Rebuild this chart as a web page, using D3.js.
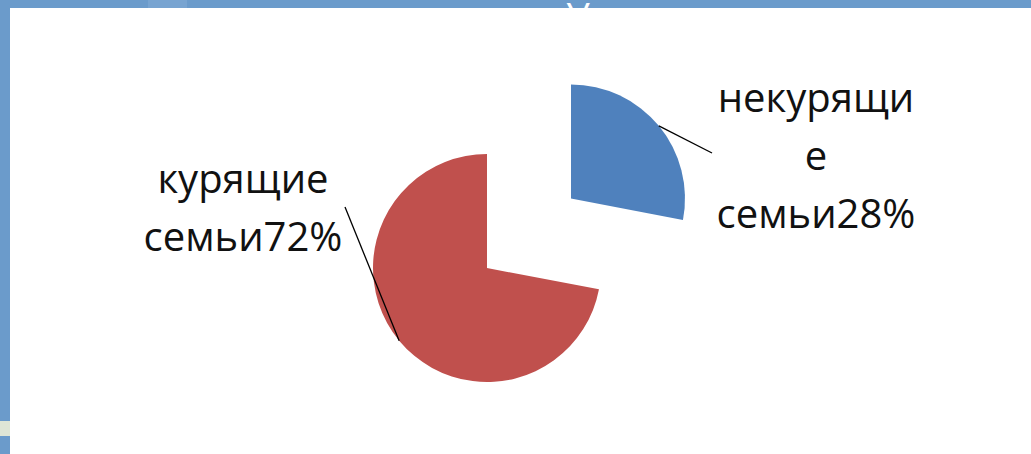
<!DOCTYPE html>
<html>
<head>
<meta charset="utf-8">
<script src="https://cdn.jsdelivr.net/npm/d3@7"></script>
<style>
  html, body { margin: 0; padding: 0; background: #6b9bcb; }
  svg { display: block; }
</style>
</head>
<body>
<div id="chart"></div>
<script>
// data
const categories = ['некурящие семьи', 'курящие семьи'];
const values = [28, 72];
const colors = ['#4f81bd', '#c0504d'];
// how the data labels wrap in the picture
const labelLines = [
    ['некурящи', 'е', 'семьи28%'],
    ['курящие', 'семьи72%']
];
const titleText = 'У';

const width = 1031, height = 454;
const cx = 487, cy = 268, radius = 114, explode = 109;
const fontSize = 40, lineHeight = 58;

// label anchor (centre x, first baseline) for each slice
const labelPos = [
    { x: 816, y: 112, lx: 712, ly: 153 },
    { x: 243, y: 193, lx: 345, ly: 207 }
];

const svg = d3.select('#chart')
    .append('svg')
    .attr('width', width)
    .attr('height', height);

// slide background: blue frame, title peeking out at the top
svg.append('rect')
    .attr('width', width).attr('height', height)
    .attr('fill', '#6b9bcb');
svg.append('rect')
    .attr('x', 148).attr('y', 0).attr('width', 39).attr('height', 8)
    .attr('fill', '#78a4d1');
svg.append('rect')
    .attr('x', 0).attr('y', 421).attr('width', 10).attr('height', 15)
    .attr('fill', '#dfe6d6');
svg.append('text')
    .attr('x', 578).attr('y', 31)
    .attr('text-anchor', 'middle')
    .attr('fill', '#fff')
    .style('font-family', 'Open Sans, sans-serif')
    .style('font-size', '38px')
    .text(titleText);

// white chart area
svg.append('rect')
    .attr('x', 10).attr('y', 8)
    .attr('width', width - 10).attr('height', height - 8)
    .attr('fill', '#fff');

const pie = d3.pie().sort(null).value(d => d);
const arcs = pie(values);

const arc = d3.arc().innerRadius(0).outerRadius(radius);

// only the first slice is pulled out
const offset = (d, i) => {
    if (i !== 0) return [0, 0];
    const mid = (d.startAngle + d.endAngle) / 2;
    return [Math.sin(mid) * explode, -Math.cos(mid) * explode];
};

const g = svg.append('g')
    .attr('transform', 'translate(' + cx + ',' + cy + ')');

g.selectAll('path.slice')
    .data(arcs)
    .enter()
    .append('path')
    .attr('class', 'slice')
    .attr('transform', (d, i) => 'translate(' + offset(d, i) + ')')
    .attr('fill', (d, i) => colors[i])
    .attr('d', arc);

// leader lines from the edge of each slice to its label
g.selectAll('line.leader')
    .data(arcs)
    .enter()
    .append('line')
    .attr('class', 'leader')
    .attr('x1', (d, i) => {
        const mid = (d.startAngle + d.endAngle) / 2;
        return offset(d, i)[0] + Math.sin(mid) * radius;
    })
    .attr('y1', (d, i) => {
        const mid = (d.startAngle + d.endAngle) / 2;
        return offset(d, i)[1] - Math.cos(mid) * radius;
    })
    .attr('x2', (d, i) => labelPos[i].lx - cx)
    .attr('y2', (d, i) => labelPos[i].ly - cy)
    .attr('stroke', '#000')
    .attr('stroke-width', 1.3);

const labels = svg.selectAll('text.label')
    .data(arcs)
    .enter()
    .append('text')
    .attr('class', 'label')
    .attr('text-anchor', 'middle')
    .attr('fill', '#111')
    .style('font-family', 'Open Sans, sans-serif')
    .style('font-size', fontSize + 'px');

labels.selectAll('tspan')
    .data((d, i) => labelLines[i].map(t => ({ t: t, i: i })))
    .enter()
    .append('tspan')
    .attr('x', d => labelPos[d.i].x)
    .attr('y', (d, j) => labelPos[d.i].y + j * lineHeight)
    .text(d => d.t);
</script>
</body>
</html>
